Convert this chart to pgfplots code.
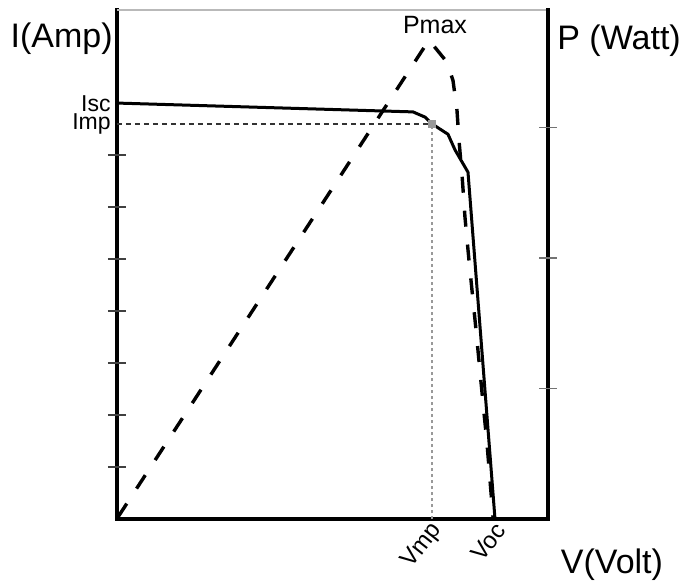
\documentclass[border=0pt]{standalone}
\usepackage{fontspec}
\setmainfont{Liberation Sans}
\usepackage{pgfplots}
\usepackage{pgfplotstable}
\pgfplotsset{compat=1.18}

% I-V curve (left axis) and P-V curve (right axis)
\pgfplotstableread{
v     i
0     8.00
29.6  7.83
30.8  7.73
31.5  7.60
33.1  7.40
33.8  7.10
35.1  6.67
37.8  0.00
}\ivdata

\pgfplotstableread{
v     p
0.1   0.015
31.2  3.67
33.0  3.50
33.6  3.36
34.0  3.13
34.2  2.90
34.5  2.64
34.8  2.31
35.2  1.98
35.9  1.45
36.6  0.89
37.0  0.58
37.6  0.015
}\pvdata

\pgfplotsset{
  ivframe/.style={
    at={(0,0)}, anchor=south west,
    scale only axis, width=215.5pt, height=254.5pt,
    xmin=0, xmax=43.1,
    clip=false,
  },
}

\begin{document}
\begin{tikzpicture}
\begin{axis}[
  ivframe,
  ymin=0, ymax=9.79,
  axis x line*=bottom, axis y line*=left,
  axis line style={line width=2.2pt, black, -, line cap=rect},
  ytick=\empty,
  xtick={31.5,37.8}, xticklabels={Vmp,Voc},
  x tick style={draw=none},
  x tick label style={font=\fontsize{12}{14}\selectfont, rotate=52, anchor=east, inner sep=1pt, yshift=-4.5pt},
]
% tick marks crossing the current axis
\pgfplotsinvokeforeach{1,...,7}{
  \draw[black!75, line width=0.8pt] ([xshift=-4.5pt]axis cs:0,#1) -- ([xshift=4.5pt]axis cs:0,#1);
}
\addplot[black!80, line width=0.7pt, dash pattern=on 2.5pt off 2pt] coordinates {(0,7.6) (31.5,7.6)};
\addplot[gray!80, line width=0.6pt, dash pattern=on 1.5pt off 1.5pt] coordinates {(31.5,0) (31.5,7.6)};
\addplot[only marks, mark=square*, mark size=1.6pt, gray!80] coordinates {(31.5,7.6)};
\addplot[black, line width=1.5pt, line join=round] table[x=v, y=i] {\ivdata};
\end{axis}

\begin{axis}[
  ivframe,
  ymin=0, ymax=3.9,
  axis x line*=top, axis y line*=right,
  x axis line style={gray!55, line width=1pt, -},
  y axis line style={black, line width=2.2pt, -, line cap=rect},
  xtick=\empty, ytick=\empty,
]
% tick marks crossing the power axis
\pgfplotsinvokeforeach{1,2,3}{
  \draw[black!55, line width=0.8pt] ([xshift=-4.5pt]axis cs:43.1,#1) -- ([xshift=4.5pt]axis cs:43.1,#1);
}
\addplot[black, line width=1.7pt, line join=round, dash pattern=on 8pt off 9pt] table[x=v, y=p] {\pvdata};
\end{axis}

\node[anchor=east, font=\fontsize{17}{20}\selectfont, inner sep=0pt] at (-2pt,240pt) {I(Amp)};
\node[anchor=west, font=\fontsize{17}{20}\selectfont, inner sep=0pt] at (220pt,239pt) {P (Watt)};
\node[font=\fontsize{12.5}{14}\selectfont, inner sep=0pt] at (159pt,247pt) {Pmax};
\node[anchor=base east, font=\fontsize{11.5}{12}\selectfont, inner sep=0pt] at (-3pt,204pt) {Isc};
\node[anchor=base east, font=\fontsize{11.5}{12}\selectfont, inner sep=0pt] at (-3pt,195pt) {Imp};
\node[font=\fontsize{17}{20}\selectfont, inner sep=0pt] at (247.5pt,-23pt) {V(Volt)};

\pgfresetboundingbox
\useasboundingbox (-58.5pt,-33pt) rectangle (282.5pt,259.5pt);
\end{tikzpicture}
\end{document}
